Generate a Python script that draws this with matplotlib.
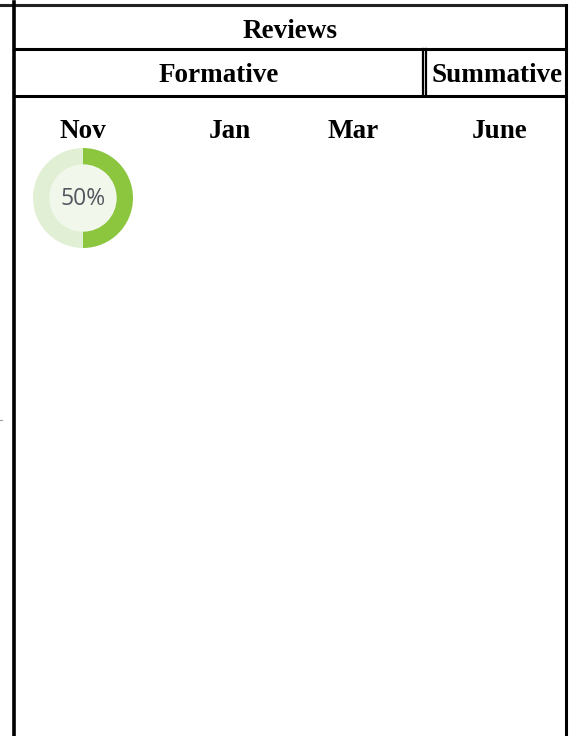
import matplotlib
matplotlib.use('Agg')
import matplotlib.pyplot as plt

# table content
title = 'Reviews'
groups = ['Formative', 'Summative']
months = ['Nov', 'Jan', 'Mar', 'June']
progress = {'Nov': 50}          # percent complete per review

W, H = 577, 736
fig = plt.figure(figsize=(W / 100, H / 100), dpi=100)
ax = fig.add_axes([0, 0, 1, 1])
ax.set_xlim(0, W)
ax.set_ylim(H, 0)
ax.axis('off')

left, right = 14, 566
top, row1, row2 = 5, 49, 96
split = 424
lw = 2.2

# grid lines
ax.plot([0, right], [top, top], color='#222', lw=lw)
ax.plot([left, left], [2, H], color='black', lw=2.6)
ax.plot([right, right], [top, H], color='black', lw=2.2)
ax.plot([left, right], [row1, row1], color='black', lw=lw)
ax.plot([left, right], [row2, row2], color='black', lw=lw)
ax.plot([split - 1, split - 1], [row1, row2], color='black', lw=1.6)
ax.plot([split + 2, split + 2], [row1, row2], color='black', lw=1.6)
ax.plot([0, 2], [420, 420], color='#999', lw=0.8)

serif = dict(family='Liberation Serif', fontweight='bold', fontsize=19.5,
             ha='center', va='center', color='black')
ax.text((left + right) / 2, 32, title, **serif)
ax.text((left + split) / 2, 76, groups[0], **serif)
ax.text((split + right) / 2 + 2, 76, groups[1], **serif)

month_x = [83, 230, 353, 500]
for m, x in zip(months, month_x):
    ax.text(x, 131, m, **serif)

# donut for each month with progress
r = 50
for m, x in zip(months, month_x):
    if m not in progress:
        continue
    p = progress[m]
    cy = 198
    dax = fig.add_axes([(x - r) / W, 1 - (cy + r) / H, 2 * r / W, 2 * r / H])
    dax.pie([p, 100 - p], colors=['#8cc63f', '#e1f0d4'], startangle=90,
            counterclock=False, wedgeprops=dict(width=0.34, edgecolor='none'))
    dax.add_patch(plt.Circle((0, 0), 0.66, color='#f1f8eb'))
    dax.text(0, -0.02, f'{p}%', ha='center', va='center', fontsize=16.5,
             family='Open Sans', color='#555560')
    dax.set_xlim(-1, 1)
    dax.set_ylim(-1, 1)
    dax.set_aspect('equal')
    dax.axis('off')

fig.savefig('out.png', dpi=100)
